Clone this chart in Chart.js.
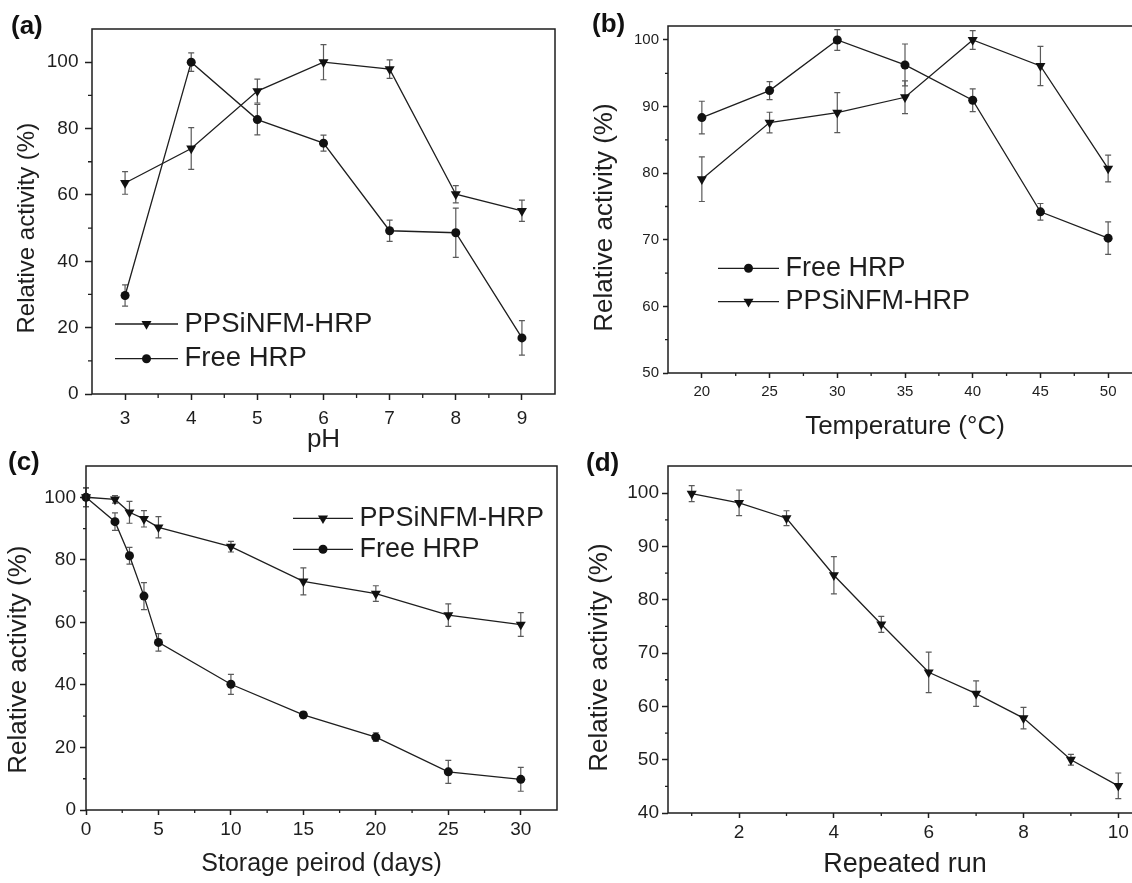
<!DOCTYPE html>
<html>
<head>
<meta charset="utf-8">
<title>HRP activity</title>
<script src="https://cdn.jsdelivr.net/npm/chart.js"></script>
<style>
  html, body { margin: 0; padding: 0; background: #fff; }
  #page { position: relative; width: 1132px; height: 883px; overflow: hidden; background: #fff; }
  #page canvas { position: absolute; }
</style>
</head>
<body>
<div id="page">
  <canvas id="chartA" width="566" height="460" style="left:0;top:0"></canvas>
  <canvas id="chartB" width="600" height="460" style="left:566px;top:0"></canvas>
  <canvas id="chartC" width="566" height="442" style="left:0;top:441px"></canvas>
  <canvas id="chartD" width="600" height="442" style="left:566px;top:441px"></canvas>
</div>
<script>
const FONT = "'Liberation Sans', Arial, Helvetica, sans-serif"
const INK = "#1e1e1e"

// (a) effect of pH
const phValues = [3, 4, 5, 6, 7, 8, 9]
const phImmob = [63.6, 74.0, 91.3, 100, 97.9, 60.2, 55.2]
const phImmobErr = [3.4, 6.3, 3.6, 5.3, 2.8, 2.6, 3.2]
const phFree = [29.7, 100, 82.7, 75.6, 49.2, 48.6, 16.9]
const phFreeErr = [3.2, 2.8, 4.6, 2.4, 3.2, 7.4, 5.2]
const phTicksX = [3, 4, 5, 6, 7, 8, 9]
const phMinorX = [3.5, 4.5, 5.5, 6.5, 7.5, 8.5]
const phTicksY = [0, 20, 40, 60, 80, 100]
const phMinorY = [10, 30, 50, 70, 90]

// (b) effect of temperature
const tempValues = [20, 25, 30, 35, 40, 45, 50]
const tempFree = [88.35, 92.4, 100, 96.25, 90.95, 74.2, 70.25]
const tempFreeErr = [2.45, 1.35, 1.55, 3.15, 1.7, 1.25, 2.45]
const tempImmob = [79.1, 87.6, 89.1, 91.4, 100, 96.1, 80.7]
const tempImmobErr = [3.35, 1.55, 3.0, 2.45, 1.4, 2.95, 2.0]
const tempTicksX = [20, 25, 30, 35, 40, 45, 50]
const tempMinorX = [22.5, 27.5, 32.5, 37.5, 42.5, 47.5]
const tempTicksY = [50, 60, 70, 80, 90, 100]
const tempMinorY = [55, 65, 75, 85, 95]

// (c) storage stability
const storageDays = [0, 2, 3, 4, 5, 10, 15, 20, 25, 30]
const storageImmob = [100, 99.3, 95.2, 93.1, 90.4, 84.2, 73.1, 69.2, 62.3, 59.3]
const storageImmobErr = [3.0, 1.2, 3.5, 2.6, 3.4, 1.7, 4.3, 2.5, 3.6, 3.8]
const storageFree = [100, 92.2, 81.3, 68.4, 53.6, 40.2, 30.4, 23.3, 12.2, 9.8]
const storageFreeErr = [3.0, 2.8, 2.7, 4.3, 2.8, 3.2, 1.0, 1.4, 3.7, 3.8]
const storageTicksX = [0, 5, 10, 15, 20, 25, 30]
const storageMinorX = [2.5, 7.5, 12.5, 17.5, 22.5, 27.5]
const storageTicksY = [0, 20, 40, 60, 80, 100]
const storageMinorY = [10, 30, 50, 70, 90]

// (d) reusability
const runs = [1, 2, 3, 4, 5, 6, 7, 8, 9, 10]
const reuseActivity = [99.9, 98.2, 95.3, 84.6, 75.4, 66.4, 62.4, 57.8, 50.0, 45.1]
const reuseErr = [1.5, 2.4, 1.4, 3.5, 1.5, 3.8, 2.4, 2.0, 1.0, 2.4]
const runTicksX = [2, 4, 6, 8, 10]
const runMinorX = [1, 3, 5, 7, 9]
const runTicksY = [40, 50, 60, 70, 80, 90, 100]
const runMinorY = [45, 55, 65, 75, 85, 95]

const Y_TITLE = "Relative activity (%)"

function drawMarker(ctx, style, x, y, r, rot) {
  ctx.beginPath()
  if (style === "circle") {
    ctx.arc(x, y, r, 0, Math.PI * 2)
  } else {
    const a0 = (rot || 0) * Math.PI / 180
    for (let k = 0; k < 3; k++) {
      const a = a0 + k * 2 * Math.PI / 3
      ctx.lineTo(x + Math.sin(a) * r, y - Math.cos(a) * r)
    }
    ctx.closePath()
  }
  ctx.fill()
}

// vertical error bars with caps, drawn under the markers
const errorBars = {
  id: "errorBars",
  beforeDatasetsDraw(chart) {
    const ctx = chart.ctx
    const yScale = chart.scales.y
    chart.data.datasets.forEach((ds, i) => {
      if (!ds.errors) return
      const meta = chart.getDatasetMeta(i)
      ctx.save()
      ctx.strokeStyle = "#5a5a5a"
      ctx.lineWidth = 1.2
      meta.data.forEach((pt, j) => {
        const v = ds.data[j].y
        const e = ds.errors[j]
        const y1 = yScale.getPixelForValue(v + e)
        const y2 = yScale.getPixelForValue(v - e)
        ctx.beginPath()
        ctx.moveTo(pt.x, y1)
        ctx.lineTo(pt.x, y2)
        ctx.moveTo(pt.x - 3, y1)
        ctx.lineTo(pt.x + 3, y1)
        ctx.moveTo(pt.x - 3, y2)
        ctx.lineTo(pt.x + 3, y2)
        ctx.stroke()
      })
      ctx.restore()
    })
  },
}

// box frame, minor ticks and the panel tag
const originAxes = {
  id: "originAxes",
  afterDraw(chart, args, opts) {
    const { ctx, chartArea: a, scales } = chart
    ctx.save()
    ctx.strokeStyle = INK
    ctx.lineWidth = 1.5
    ctx.strokeRect(a.left, a.top, a.right - a.left, a.bottom - a.top)
    ctx.lineWidth = 1.3
    ctx.beginPath()
    ;(opts.minorX || []).forEach((v) => {
      const px = scales.x.getPixelForValue(v)
      ctx.moveTo(px, a.bottom)
      ctx.lineTo(px, a.bottom + opts.minorLen)
    })
    ;(opts.minorY || []).forEach((v) => {
      const py = scales.y.getPixelForValue(v)
      ctx.moveTo(a.left, py)
      ctx.lineTo(a.left - opts.minorLen, py)
    })
    ctx.stroke()
    ctx.fillStyle = "#111"
    ctx.font = "bold " + opts.tagSize + "px " + FONT
    ctx.textBaseline = "alphabetic"
    ctx.fillText(opts.tag, opts.tagX, opts.tagY)
    ctx.restore()
  },
}

// Origin-style legend: line segment with the marker in its middle
const lineLegend = {
  id: "lineLegend",
  afterDraw(chart, args, opts) {
    if (!opts.order) return
    const ctx = chart.ctx
    ctx.save()
    ctx.font = opts.size + "px " + FONT
    ctx.textBaseline = "middle"
    opts.order.forEach((idx, k) => {
      const ds = chart.data.datasets[idx]
      const y = opts.y + k * opts.dy
      ctx.strokeStyle = ds.borderColor
      ctx.lineWidth = ds.borderWidth
      ctx.beginPath()
      ctx.moveTo(opts.x, y)
      ctx.lineTo(opts.x + opts.len, y)
      ctx.stroke()
      ctx.fillStyle = ds.pointBackgroundColor
      drawMarker(ctx, ds.pointStyle, opts.x + opts.len / 2, y, ds.pointRadius, ds.pointRotation)
      ctx.fillStyle = INK
      ctx.fillText(ds.label, opts.x + opts.len + opts.gap, y)
    })
    ctx.restore()
  },
}

function series(label, xs, ys, errs, tri) {
  return {
    label,
    data: xs.map((x, i) => ({ x, y: ys[i] })),
    errors: errs,
    borderColor: INK,
    borderWidth: 1.3,
    pointStyle: tri ? "triangle" : "circle",
    pointRotation: tri ? 180 : 0,
    pointRadius: tri ? 5.8 : 4.5,
    pointBackgroundColor: "#111",
    pointBorderWidth: 0,
    tension: 0,
    clip: false,
  }
}

function axis(c) {
  return {
    type: "linear",
    min: c.min,
    max: c.max,
    afterBuildTicks: (s) => { s.ticks = c.ticks.map((v) => ({ value: v })) },
    afterFit: (s) => { s[c.sizeProp] = c.size },
    grid: { drawOnChartArea: false, tickLength: c.tickLen, tickColor: INK, tickWidth: 1.5 },
    border: { display: false },
    ticks: { padding: c.tickPad, color: INK, autoSkip: false, maxRotation: 0, font: { family: FONT, size: c.tickSize } },
    // trailing spaces push the rotated y title a little towards the bottom, as in the original
    title: { display: true, text: c.title + " ".repeat(c.shift || 0), color: INK, padding: c.titlePad, font: { family: FONT, size: c.titleSize } },
  }
}

function makeChart(id, c) {
  return new Chart(document.getElementById(id), {
    type: "line",
    data: { datasets: c.datasets },
    options: {
      responsive: false,
      animation: false,
      events: [],
      layout: { padding: c.pad },
      plugins: {
        legend: { display: false },
        tooltip: { enabled: false },
        originAxes: c.frame,
        lineLegend: c.legend || {},
      },
      scales: { x: axis(c.x), y: axis(c.y) },
    },
    plugins: [errorBars, originAxes, lineLegend],
  })
}

makeChart("chartA", {
  datasets: [
    series("PPSiNFM-HRP", phValues, phImmob, phImmobErr, true),
    series("Free HRP", phValues, phFree, phFreeErr, false),
  ],
  pad: { left: 0, top: 29, right: 11, bottom: 0 },
  x: { min: 2.5, max: 9.5, ticks: phTicksX, sizeProp: "height", size: 66, tickLen: 6, tickPad: 7, tickSize: 19,
       title: "pH", titleSize: 26, titlePad: { top: 0, bottom: 4.4 } },
  y: { min: 0, max: 110, ticks: phTicksY, sizeProp: "width", size: 92, tickLen: 7, tickPad: 6.5, tickSize: 19,
       title: Y_TITLE, shift: 5, titleSize: 24, titlePad: { top: 12.6, bottom: 0 } },
  frame: { minorX: phMinorX, minorY: phMinorY, minorLen: 4, tag: "(a)", tagX: 11, tagY: 34, tagSize: 26 },
  legend: { order: [0, 1], x: 115, y: 324, dy: 34.7, len: 63, gap: 6.5, size: 27.5 },
})

makeChart("chartB", {
  datasets: [
    series("Free HRP", tempValues, tempFree, tempFreeErr, false),
    series("PPSiNFM-HRP", tempValues, tempImmob, tempImmobErr, true),
  ],
  pad: { left: 0, top: 26, right: 24, bottom: 0 },
  x: { min: 17.5, max: 52.5, ticks: tempTicksX, sizeProp: "height", size: 87, tickLen: 5, tickPad: 5, tickSize: 15,
       title: "Temperature (°C)", titleSize: 26, titlePad: { top: 0, bottom: 17.4 } },
  y: { min: 50, max: 102.1, ticks: tempTicksY, sizeProp: "width", size: 102, tickLen: 5, tickPad: 4, tickSize: 15,
       title: Y_TITLE, shift: 5, titleSize: 26, titlePad: { top: 23.2, bottom: 0 } },
  frame: { minorX: tempMinorX, minorY: tempMinorY, minorLen: 3, tag: "(b)", tagX: 26, tagY: 32, tagSize: 26 },
  legend: { order: [0, 1], x: 152, y: 268.3, dy: 33.4, len: 61, gap: 6.5, size: 27 },
})

makeChart("chartC", {
  datasets: [
    series("PPSiNFM-HRP", storageDays, storageImmob, storageImmobErr, true),
    series("Free HRP", storageDays, storageFree, storageFreeErr, false),
  ],
  pad: { left: 0, top: 25, right: 9, bottom: 0 },
  x: { min: 0, max: 32.5, ticks: storageTicksX, sizeProp: "height", size: 73, tickLen: 5, tickPad: 3.6, tickSize: 19,
       title: "Storage peirod (days)", titleSize: 25, titlePad: { top: 0, bottom: 3.7 } },
  y: { min: 0, max: 110, ticks: storageTicksY, sizeProp: "width", size: 86, tickLen: 6, tickPad: 4, tickSize: 19,
       title: Y_TITLE, shift: 6, titleSize: 26, titlePad: { top: 3.4, bottom: 0 } },
  frame: { minorX: storageMinorX, minorY: storageMinorY, minorLen: 3, tag: "(c)", tagX: 8, tagY: 28.5, tagSize: 26 },
  legend: { order: [0, 1], x: 293, y: 77.3, dy: 31, len: 60, gap: 6.5, size: 27 },
})

makeChart("chartD", {
  datasets: [
    series("PPSiNFM-HRP", runs, reuseActivity, reuseErr, true),
  ],
  pad: { left: 0, top: 25, right: 24, bottom: 0 },
  x: { min: 0.5, max: 10.5, ticks: runTicksX, sizeProp: "height", size: 70, tickLen: 5, tickPad: 3.6, tickSize: 19,
       title: "Repeated run", titleSize: 27, titlePad: { top: 0, bottom: 2.2 } },
  y: { min: 40, max: 105.1, ticks: runTicksY, sizeProp: "width", size: 102, tickLen: 6, tickPad: 3, tickSize: 19,
       title: Y_TITLE, shift: 5, titleSize: 26, titlePad: { top: 17.9, bottom: 0 } },
  frame: { minorX: runMinorX, minorY: runMinorY, minorLen: 3, tag: "(d)", tagX: 20, tagY: 30, tagSize: 26 },
})
</script>
</body>
</html>
